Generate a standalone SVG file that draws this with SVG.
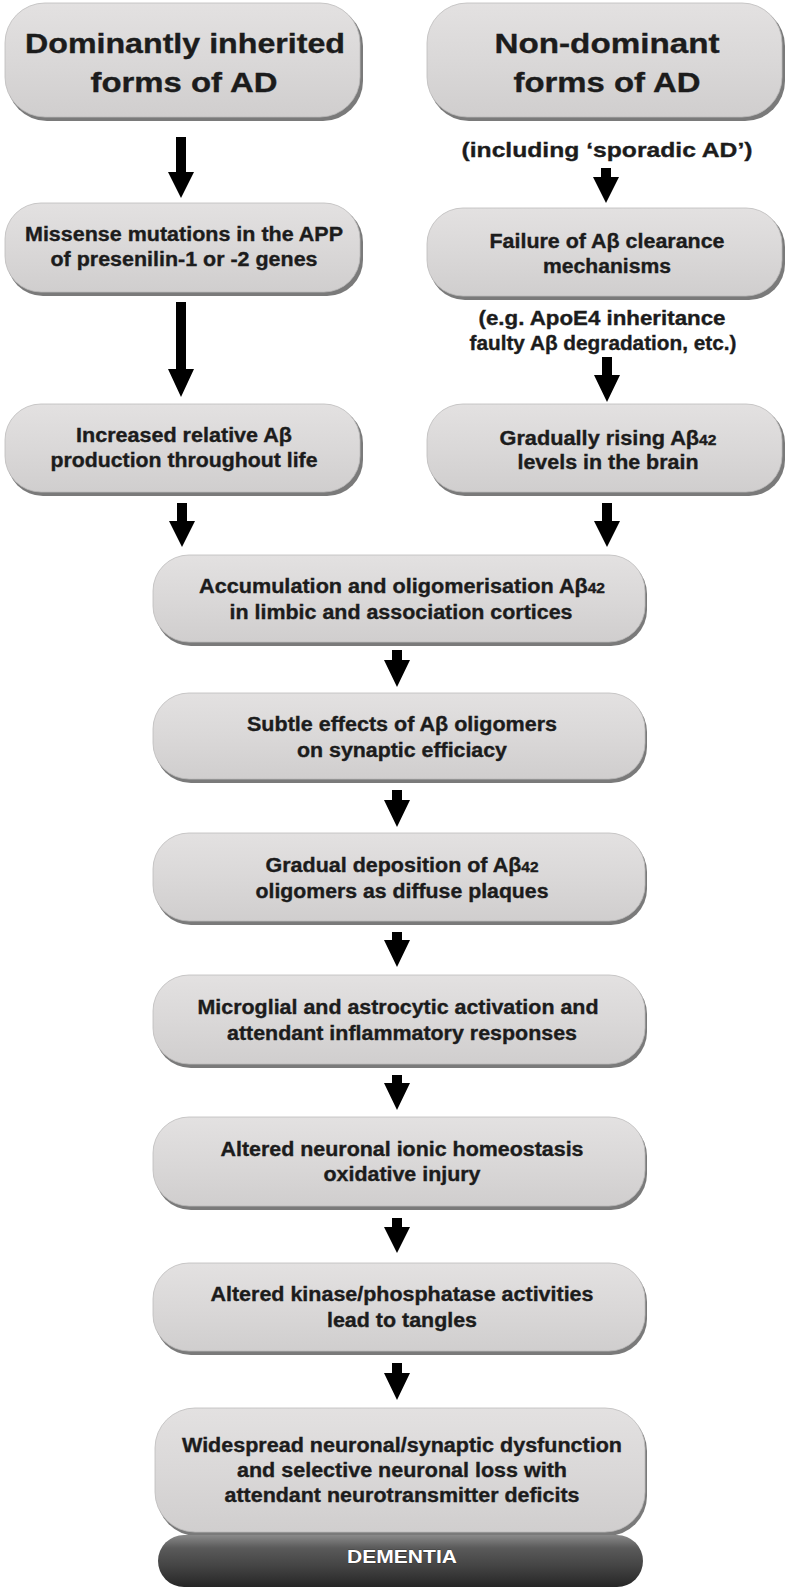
<svg xmlns="http://www.w3.org/2000/svg" width="788" height="1591" viewBox="0 0 788 1591">
<defs>
<linearGradient id="boxg" x1="0" y1="0" x2="0" y2="1">
<stop offset="0" stop-color="#e3e1e1"/>
<stop offset="0.5" stop-color="#dad8d8"/>
<stop offset="1" stop-color="#d0cece"/>
</linearGradient>
<linearGradient id="demg" x1="0" y1="0" x2="0" y2="1">
<stop offset="0" stop-color="#8a8a8a"/>
<stop offset="0.25" stop-color="#5a5a5a"/>
<stop offset="0.6" stop-color="#444444"/>
<stop offset="1" stop-color="#262626"/>
</linearGradient>
</defs>
<style>
.sh{fill:#7a7a7a}
.bx{fill:url(#boxg);stroke:#bdbbbb;stroke-width:0.8}
.t{font-family:"Liberation Sans",Arial,sans-serif;font-weight:bold;fill:#1c1c1c;stroke:#1c1c1c;stroke-width:0.35;text-anchor:middle}
.big{font-size:28px}
.sm{font-size:19.5px}
.mid{font-size:21px}
.sub{font-size:14px}
.dem{font-family:"Liberation Sans",Arial,sans-serif;font-weight:bold;font-size:19px;fill:#ffffff;text-anchor:middle;stroke:#222;stroke-width:0.6;paint-order:stroke}
.ar{fill:#000}
</style>
<rect width="788" height="1591" fill="#ffffff"/>

<g id="node-dominant">
<rect class="sh" x="7" y="6" width="356" height="115" rx="40"/>
<rect class="bx" x="5" y="3" width="355" height="114" rx="40"/>
<text class="t big" x="185" y="53" textLength="320" lengthAdjust="spacingAndGlyphs">Dominantly inherited</text>
<text class="t big" x="184" y="92" textLength="187" lengthAdjust="spacingAndGlyphs">forms of AD</text>
</g>

<g id="node-nondominant">
<rect class="sh" x="429" y="6" width="356" height="115" rx="40"/>
<rect class="bx" x="427" y="3" width="355" height="114" rx="40"/>
<text class="t big" x="607" y="53" textLength="225" lengthAdjust="spacingAndGlyphs">Non-dominant</text>
<text class="t big" x="607" y="92" textLength="187" lengthAdjust="spacingAndGlyphs">forms of AD</text>
</g>

<g id="label-sporadic">
<text class="t mid" x="607" y="157" textLength="291" lengthAdjust="spacingAndGlyphs">(including ‘sporadic AD’)</text>
</g>

<g id="node-missense">
<rect class="sh" x="7" y="206" width="356" height="90" rx="36"/>
<rect class="bx" x="5" y="203" width="355" height="89" rx="36"/>
<text class="t sm" x="184" y="241" textLength="318" lengthAdjust="spacingAndGlyphs">Missense mutations in the APP</text>
<text class="t sm" x="184" y="266" textLength="267" lengthAdjust="spacingAndGlyphs">of presenilin-1 or -2 genes</text>
</g>

<g id="node-failure">
<rect class="sh" x="429" y="211" width="356" height="89" rx="36"/>
<rect class="bx" x="427" y="208" width="355" height="88" rx="36"/>
<text class="t sm" x="607" y="248" textLength="235" lengthAdjust="spacingAndGlyphs">Failure of Aβ clearance</text>
<text class="t sm" x="607" y="273" textLength="128" lengthAdjust="spacingAndGlyphs">mechanisms</text>
</g>

<g id="label-apoe4">
<text class="t sm" x="602" y="325" textLength="247" lengthAdjust="spacingAndGlyphs">(e.g. ApoE4 inheritance</text>
<text class="t sm" x="603" y="350" textLength="267" lengthAdjust="spacingAndGlyphs">faulty Aβ degradation, etc.)</text>
</g>

<g id="node-increased">
<rect class="sh" x="7" y="407" width="356" height="89" rx="36"/>
<rect class="bx" x="5" y="404" width="355" height="88" rx="36"/>
<text class="t sm" x="184" y="442" textLength="216" lengthAdjust="spacingAndGlyphs">Increased relative Aβ</text>
<text class="t sm" x="184" y="467" textLength="267" lengthAdjust="spacingAndGlyphs">production throughout life</text>
</g>

<g id="node-gradually">
<rect class="sh" x="429" y="407" width="356" height="89" rx="36"/>
<rect class="bx" x="427" y="404" width="355" height="88" rx="36"/>
<text class="t sm" x="608" y="445" textLength="217" lengthAdjust="spacingAndGlyphs">Gradually rising Aβ<tspan class="sub">42</tspan></text>
<text class="t sm" x="608" y="469" textLength="181" lengthAdjust="spacingAndGlyphs">levels in the brain</text>
</g>

<g id="node-accumulation">
<rect class="sh" x="155" y="558" width="492" height="88" rx="36"/>
<rect class="bx" x="153" y="555" width="492" height="87" rx="36"/>
<text class="t sm" x="402" y="593" textLength="406" lengthAdjust="spacingAndGlyphs">Accumulation and oligomerisation Aβ<tspan class="sub">42</tspan></text>
<text class="t sm" x="401" y="619" textLength="343" lengthAdjust="spacingAndGlyphs">in limbic and association cortices</text>
</g>

<g id="node-subtle">
<rect class="sh" x="155" y="696" width="492" height="87" rx="36"/>
<rect class="bx" x="153" y="693" width="492" height="86" rx="36"/>
<text class="t sm" x="402" y="731" textLength="310" lengthAdjust="spacingAndGlyphs">Subtle effects of Aβ oligomers</text>
<text class="t sm" x="402" y="757" textLength="210" lengthAdjust="spacingAndGlyphs">on synaptic efficiacy</text>
</g>

<g id="node-deposition">
<rect class="sh" x="155" y="836" width="492" height="89" rx="36"/>
<rect class="bx" x="153" y="833" width="492" height="88" rx="36"/>
<text class="t sm" x="402" y="872" textLength="273" lengthAdjust="spacingAndGlyphs">Gradual deposition of Aβ<tspan class="sub">42</tspan></text>
<text class="t sm" x="402" y="898" textLength="293" lengthAdjust="spacingAndGlyphs">oligomers as diffuse plaques</text>
</g>

<g id="node-microglial">
<rect class="sh" x="155" y="978" width="492" height="90" rx="36"/>
<rect class="bx" x="153" y="975" width="492" height="89" rx="36"/>
<text class="t sm" x="398" y="1014" textLength="401" lengthAdjust="spacingAndGlyphs">Microglial and astrocytic activation and</text>
<text class="t sm" x="402" y="1040" textLength="350" lengthAdjust="spacingAndGlyphs">attendant inflammatory responses</text>
</g>

<g id="node-ionic">
<rect class="sh" x="155" y="1120" width="492" height="90" rx="36"/>
<rect class="bx" x="153" y="1117" width="492" height="89" rx="36"/>
<text class="t sm" x="402" y="1156" textLength="363" lengthAdjust="spacingAndGlyphs">Altered neuronal ionic homeostasis</text>
<text class="t sm" x="402" y="1181" textLength="157" lengthAdjust="spacingAndGlyphs">oxidative injury</text>
</g>

<g id="node-kinase">
<rect class="sh" x="155" y="1266" width="492" height="89" rx="36"/>
<rect class="bx" x="153" y="1263" width="492" height="88" rx="36"/>
<text class="t sm" x="402" y="1301" textLength="383" lengthAdjust="spacingAndGlyphs">Altered kinase/phosphatase activities</text>
<text class="t sm" x="402" y="1327" textLength="150" lengthAdjust="spacingAndGlyphs">lead to tangles</text>
</g>

<g id="node-widespread">
<rect class="sh" x="157" y="1411" width="490" height="125" rx="40"/>
<rect class="bx" x="155" y="1408" width="490" height="124" rx="40"/>
<text class="t sm" x="402" y="1452" textLength="440" lengthAdjust="spacingAndGlyphs">Widespread neuronal/synaptic dysfunction</text>
<text class="t sm" x="402" y="1477" textLength="330" lengthAdjust="spacingAndGlyphs">and selective neuronal loss with</text>
<text class="t sm" x="402" y="1502" textLength="355" lengthAdjust="spacingAndGlyphs">attendant neurotransmitter deficits</text>
</g>

<g id="node-dementia">
<rect x="158" y="1535" width="485" height="52" rx="26" fill="url(#demg)"/>
<text class="dem" x="402" y="1563" textLength="110" lengthAdjust="spacingAndGlyphs">DEMENTIA</text>
</g>

<g id="connectors">
<path class="ar" d="M176,137 H186 V172 H194 L181,198 L168,172 H176 Z"/>
<path class="ar" d="M176,302 H186 V369 H194 L181,397 L168,369 H176 Z"/>
<path class="ar" d="M177,503 H187 V521 H195 L182,547 L169,521 H177 Z"/>
<path class="ar" d="M601,168 H611 V177 H619 L606,203 L593,177 H601 Z"/>
<path class="ar" d="M602,357 H612 V375 H620 L607,402 L594,375 H602 Z"/>
<path class="ar" d="M602,503 H612 V521 H620 L607,547 L594,521 H602 Z"/>
<path class="ar" d="M392,650 H402 V660 H410 L397,687 L384,660 H392 Z"/>
<path class="ar" d="M392,790 H402 V800 H410 L397,827 L384,800 H392 Z"/>
<path class="ar" d="M392,932 H402 V940 H410 L397,967 L384,940 H392 Z"/>
<path class="ar" d="M392,1075 H402 V1083 H410 L397,1110 L384,1083 H392 Z"/>
<path class="ar" d="M392,1218 H402 V1227 H410 L397,1253 L384,1227 H392 Z"/>
<path class="ar" d="M392,1363 H402 V1373 H410 L397,1400 L384,1373 H392 Z"/>
</g>
</svg>
